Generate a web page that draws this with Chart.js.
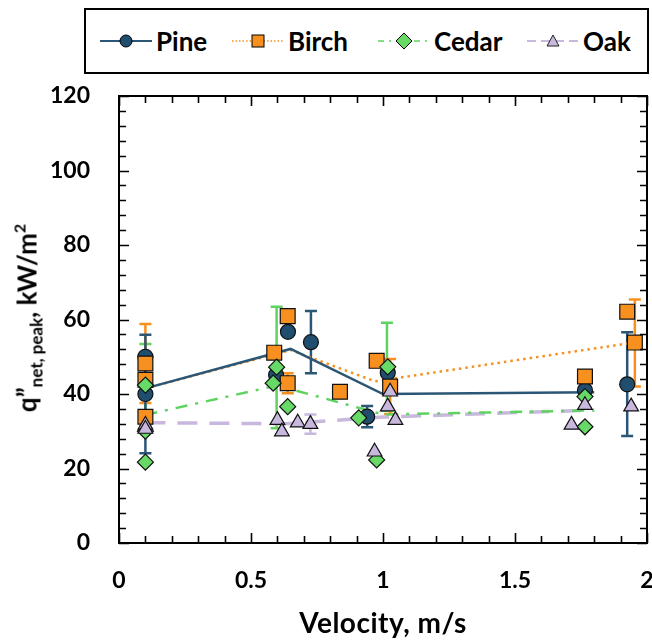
<!DOCTYPE html>
<html>
<head>
<meta charset="utf-8">
<script src="https://cdn.jsdelivr.net/npm/chart.js@4.4.1/dist/chart.umd.min.js"></script>
<style>
    body { margin: 0; background: #fff; }
    #wrap { position: relative; width: 652px; height: 641px; font-family: Lato, 'Open Sans', sans-serif; font-weight: 700; color: #000; }
    #chart { position: absolute; left: 0; top: 0; }
    #legend { position: absolute; left: 84px; top: 8px; width: 561px; height: 62px; border: 2px solid #000; background: #fff; }
    .item { position: absolute; top: 0; height: 62px; display: flex; align-items: center; font-size: 26px; }
    .item svg { margin-right: 4px; }
    #ytitle { position: absolute; left: 28px; top: 318px; transform: translate(-50%, -50%) rotate(-90deg); white-space: nowrap; font-size: 26px; }
    #ytitle sub { font-size: 17px; vertical-align: -6px; }
    #ytitle sup { font-size: 16px; vertical-align: 11px; }
    #xtitle { position: absolute; left: 383px; top: 622px; transform: translate(-50%, -50%); white-space: nowrap; font-size: 28px; letter-spacing: 0.5px; }
</style>
</head>
<body>
<div id="wrap">
    <canvas id="chart" width="652" height="641"></canvas>
    <div id="legend">
        <div class="item" style="left:14px">
            <svg width="52" height="20"><line x1="0" y1="10" x2="52" y2="10" stroke="#2b5676" stroke-width="2"/><circle cx="26" cy="10" r="6" fill="#1f4e6e" stroke="#000" stroke-width="1"/></svg>Pine
        </div>
        <div class="item" style="left:146px">
            <svg width="52" height="20"><line x1="0" y1="10" x2="52" y2="10" stroke="#f7901e" stroke-width="1.6" stroke-dasharray="1.5,2"/><rect x="20" y="4" width="12" height="12" fill="#f7901e" stroke="#000" stroke-width="1"/></svg>Birch
        </div>
        <div class="item" style="left:292px">
            <svg width="52" height="20"><line x1="0" y1="10" x2="52" y2="10" stroke="#5fd35f" stroke-width="1.6" stroke-dasharray="6,5,2,5"/><polygon points="26,2 34,10 26,18 18,10" fill="#66d966" stroke="#000" stroke-width="1"/></svg>Cedar
        </div>
        <div class="item" style="left:441px">
            <svg width="52" height="20"><line x1="0" y1="10" x2="52" y2="10" stroke="#c8b8de" stroke-width="1.8" stroke-dasharray="9,5"/><polygon points="26,4 32,15 20,15" fill="#c8b8de" stroke="#222" stroke-width="1"/></svg>Oak
        </div>
    </div>
    <div id="ytitle">q”<sub>net, peak</sub>, kW/m<sup>2</sup></div>
    <div id="xtitle">Velocity, m/s</div>
</div>
<script>
const xMin = 0, xMax = 2, xStep = 0.5, xMinorStep = 0.1;
const yMin = 0, yMax = 120, yStep = 20, yMinorStep = 4;

// individual tests
const pineX = [0.10, 0.10, 0.595, 0.64, 0.727, 0.94, 1.018, 1.765, 1.925];
const pineY = [50.0, 40.0, 45.1, 56.7, 53.9, 33.9, 45.7, 41.0, 42.6];
const birchX = [0.10, 0.10, 0.10, 0.588, 0.639, 0.639, 0.837, 0.976, 1.027, 1.765, 1.925, 1.954];
const birchY = [48.2, 43.8, 33.9, 51.1, 60.9, 42.9, 40.6, 48.9, 42.0, 44.7, 62.1, 53.8];
const cedarX = [0.10, 0.10, 0.10, 0.597, 0.584, 0.639, 0.908, 0.976, 1.018, 1.765, 1.765];
const cedarY = [42.4, 30.0, 21.7, 47.2, 42.9, 36.6, 33.6, 22.3, 47.3, 39.3, 31.2];
const oakX = [0.10, 0.10, 0.60, 0.617, 0.677, 0.725, 0.968, 1.018, 1.027, 1.047, 1.714, 1.765, 1.94];
const oakY = [31.7, 30.6, 33.0, 29.9, 32.3, 31.9, 24.5, 36.6, 40.6, 33.0, 31.7, 37.0, 36.6];

// averaged lines
const pineMeanX = [0.10, 0.65, 1.00, 1.80];
const pineMeanY = [41.5, 52.1, 40.0, 40.5];
const birchMeanX = [0.10, 0.65, 0.97, 1.95];
const birchMeanY = [41.5, 51.8, 43.4, 53.8];
const cedarMeanX = [0.10, 0.60, 1.00, 1.80];
const cedarMeanY = [34.4, 42.3, 34.5, 35.6];
const oakMeanX = [0.10, 0.63, 1.00, 1.80];
const oakMeanY = [32.3, 32.0, 33.8, 35.7];

// error bars
const pineErrX = [0.10, 0.727, 0.94, 1.925];
const pineErrLo = [24.1, 45.6, 31.1, 28.7];
const pineErrHi = [55.9, 62.3, 36.8, 56.6];
const birchErrX = [0.10, 0.639, 1.027, 1.954];
const birchErrLo = [37.6, 40.2, 34.6, 42.0];
const birchErrHi = [58.8, 45.6, 49.4, 65.4];
const cedarErrX = [0.10, 0.597, 1.015];
const cedarErrLo = [31.4, 30.8, 35.5];
const cedarErrHi = [53.4, 63.4, 59.1];
const oakErrX = [0.725];
const oakErrLo = [29.3];
const oakErrHi = [34.5];

const colors = {
    pine: '#1f4e6e', pineLine: '#2b5676',
    birch: '#f7901e',
    cedar: '#66d966', cedarLine: '#5fd35f',
    oak: '#c8b8de'
};

const pts = (xs, ys) => xs.map((v, i) => ({ x: v, y: ys[i] }));

function markerSet(xs, ys, style, fill, radius, order) {
    return {
        type: 'scatter',
        data: pts(xs, ys),
        pointStyle: style,
        pointRadius: radius,
        backgroundColor: fill,
        borderColor: '#111',
        borderWidth: 1.2,
        order: order
    };
}

function lineSet(xs, ys, color, width, dash, order) {
    return {
        type: 'line',
        data: pts(xs, ys),
        showLine: true,
        pointRadius: 0,
        borderColor: color,
        borderWidth: width,
        borderDash: dash,
        fill: false,
        tension: 0,
        order: order
    };
}

const errorSets = [
    { color: colors.oak, x: oakErrX, lo: oakErrLo, hi: oakErrHi },
    { color: colors.cedarLine, x: cedarErrX, lo: cedarErrLo, hi: cedarErrHi },
    { color: colors.birch, x: birchErrX, lo: birchErrLo, hi: birchErrHi },
    { color: colors.pineLine, x: pineErrX, lo: pineErrLo, hi: pineErrHi }
];

const errorBars = {
    id: 'errorBars',
    beforeDatasetsDraw(chart) {
        const { ctx, scales: { x, y } } = chart;
        ctx.save();
        ctx.lineWidth = 2.5;
        errorSets.forEach(s => {
            ctx.strokeStyle = s.color;
            s.x.forEach((v, i) => {
                const px = x.getPixelForValue(v);
                const lo = y.getPixelForValue(s.lo[i]);
                const hi = y.getPixelForValue(s.hi[i]);
                ctx.beginPath();
                ctx.moveTo(px, lo); ctx.lineTo(px, hi);
                ctx.moveTo(px - 6, lo); ctx.lineTo(px + 6, lo);
                ctx.moveTo(px - 6, hi); ctx.lineTo(px + 6, hi);
                ctx.stroke();
            });
        });
        ctx.restore();
    }
};

// frame with inward ticks on all four sides
const frameTicks = {
    id: 'frameTicks',
    afterDraw(chart) {
        const { ctx, chartArea: a, scales: { x, y } } = chart;
        ctx.save();
        ctx.strokeStyle = '#000';
        ctx.lineWidth = 2;
        ctx.strokeRect(a.left, a.top, a.right - a.left, a.bottom - a.top);
        ctx.beginPath();
        for (let v = xMin; v <= xMax + 1e-9; v += xMinorStep) {
            const px = Math.round(x.getPixelForValue(v)) + 0.5;
            const major = Math.abs(v / xStep - Math.round(v / xStep)) < 1e-6;
            const len = major ? 10 : 7;
            ctx.moveTo(px, a.bottom); ctx.lineTo(px, a.bottom - len);
            ctx.moveTo(px, a.top); ctx.lineTo(px, a.top + len);
        }
        for (let v = yMin; v <= yMax + 1e-9; v += yMinorStep) {
            const py = Math.round(y.getPixelForValue(v)) + 0.5;
            const major = Math.abs(v / yStep - Math.round(v / yStep)) < 1e-6;
            const len = major ? 10 : 7;
            ctx.moveTo(a.left, py); ctx.lineTo(a.left + len, py);
            ctx.moveTo(a.right, py); ctx.lineTo(a.right - len, py);
        }
        ctx.lineWidth = 1.6;
        ctx.stroke();
        ctx.restore();
    }
};

const tickFont = { family: "Lato, 'Open Sans', sans-serif", size: 23, weight: 'bold' };

new Chart(document.getElementById('chart'), {
    type: 'scatter',
    data: {
        datasets: [
            markerSet(oakX, oakY, 'triangle', colors.oak, 8.5, 1),
            markerSet(cedarX, cedarY, 'rectRot', colors.cedar, 8, 2),
            markerSet(birchX, birchY, 'rect', colors.birch, 10.5, 3),
            markerSet(pineX, pineY, 'circle', colors.pine, 7.5, 4),
            lineSet(pineMeanX, pineMeanY, colors.pineLine, 2.5, [], 10),
            lineSet(birchMeanX, birchMeanY, colors.birch, 2.5, [2.5, 4], 11),
            lineSet(cedarMeanX, cedarMeanY, colors.cedarLine, 2.5, [12, 8, 3, 8], 12),
            lineSet(oakMeanX, oakMeanY, colors.oak, 3.5, [20, 12], 13)
        ]
    },
    options: {
        responsive: false,
        animation: false,
        layout: { autoPadding: false, padding: { top: 96, right: 5, left: 0, bottom: 0 } },
        plugins: {
            legend: { display: false },
            tooltip: { enabled: false }
        },
        scales: {
            x: {
                type: 'linear',
                min: xMin,
                max: xMax,
                grid: { display: false, drawTicks: false },
                border: { display: false },
                ticks: { stepSize: xStep, color: '#000', font: tickFont, padding: 24, maxRotation: 0, callback: v => String(v) },
                afterFit: s => { s.height = 98; s.paddingLeft = 0; s.paddingRight = 0; }
            },
            y: {
                min: yMin,
                max: yMax,
                grid: { display: false, drawTicks: false },
                border: { display: false },
                ticks: { stepSize: yStep, color: '#000', font: tickFont, padding: 29 },
                afterFit: s => { s.width = 119; s.paddingTop = 0; s.paddingBottom = 0; }
            }
        }
    },
    plugins: [errorBars, frameTicks]
});
</script>
</body>
</html>
